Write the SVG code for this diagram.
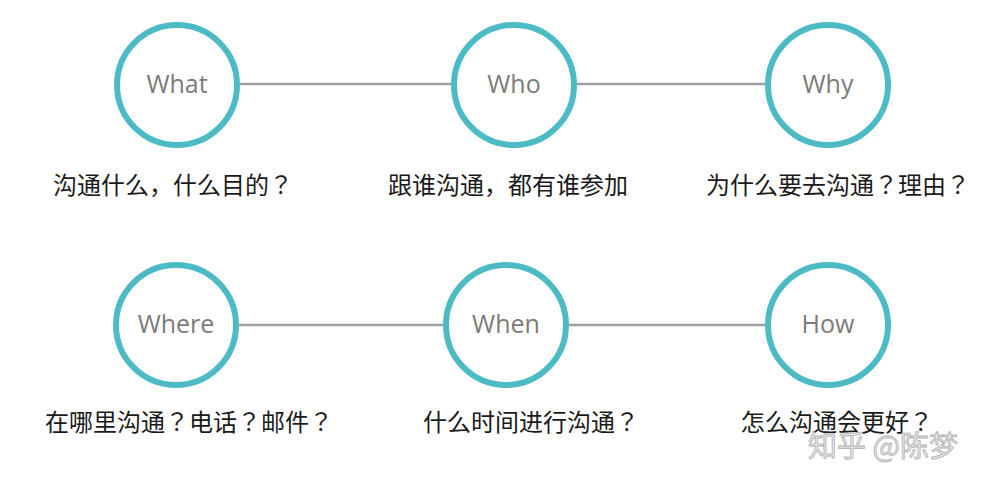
<svg xmlns="http://www.w3.org/2000/svg" width="988" height="484" viewBox="0 0 988 484">
<style>
.node circle{fill:#fff;stroke:#4dbbc5;stroke-width:6}
.node text.in{font-family:"Open Sans","Noto Sans",sans-serif;font-size:25px;fill:#7b7b7b;text-anchor:middle;dominant-baseline:central}
.lbl{font-family:"Noto Sans CJK JP","Noto Sans CJK SC",sans-serif;font-size:24px;fill:#1a1a1a}
#edges line{stroke:#a0a0a0;stroke-width:2.5}
.wm{font-family:"Noto Sans CJK SC",sans-serif;font-size:29px;fill:#e8e8e8;stroke:#b0b0b0;stroke-width:0.8}
</style>
<rect width="988" height="484" fill="#fff"/>
<g id="edges">
<line x1="240" y1="84" x2="451" y2="84"/>
<line x1="577" y1="84" x2="765" y2="84"/>
<line x1="239" y1="325" x2="443" y2="325"/>
<line x1="569" y1="325" x2="765" y2="325"/>
</g>
<g id="what" class="node"><circle cx="177" cy="85" r="60"/><text class="in" x="177" y="83">What</text></g>
<g id="who" class="node"><circle cx="514" cy="85" r="60"/><text class="in" x="514" y="83">Who</text></g>
<g id="why" class="node"><circle cx="828" cy="85" r="60"/><text class="in" x="828" y="83">Why</text></g>
<g id="where" class="node"><circle cx="176" cy="325" r="60"/><text class="in" x="176" y="323">Where</text></g>
<g id="when" class="node"><circle cx="506" cy="325" r="60"/><text class="in" x="506" y="323">When</text></g>
<g id="how" class="node"><circle cx="828" cy="325" r="60"/><text class="in" x="828" y="323">How</text></g>
<g id="labels">
<text class="lbl" x="53" y="194">沟通什么，什么目的？</text>
<text class="lbl" x="388" y="194">跟谁沟通，都有谁参加</text>
<text class="lbl" x="706" y="194">为什么要去沟通？理由？</text>
<text class="lbl" x="45" y="431">在哪里沟通？电话？邮件？</text>
<text class="lbl" x="423" y="431">什么时间进行沟通？</text>
<text class="lbl" x="741" y="431">怎么沟通会更好？</text>
</g>
<text class="wm" x="808" y="457">知乎 @陈梦</text>
</svg>
